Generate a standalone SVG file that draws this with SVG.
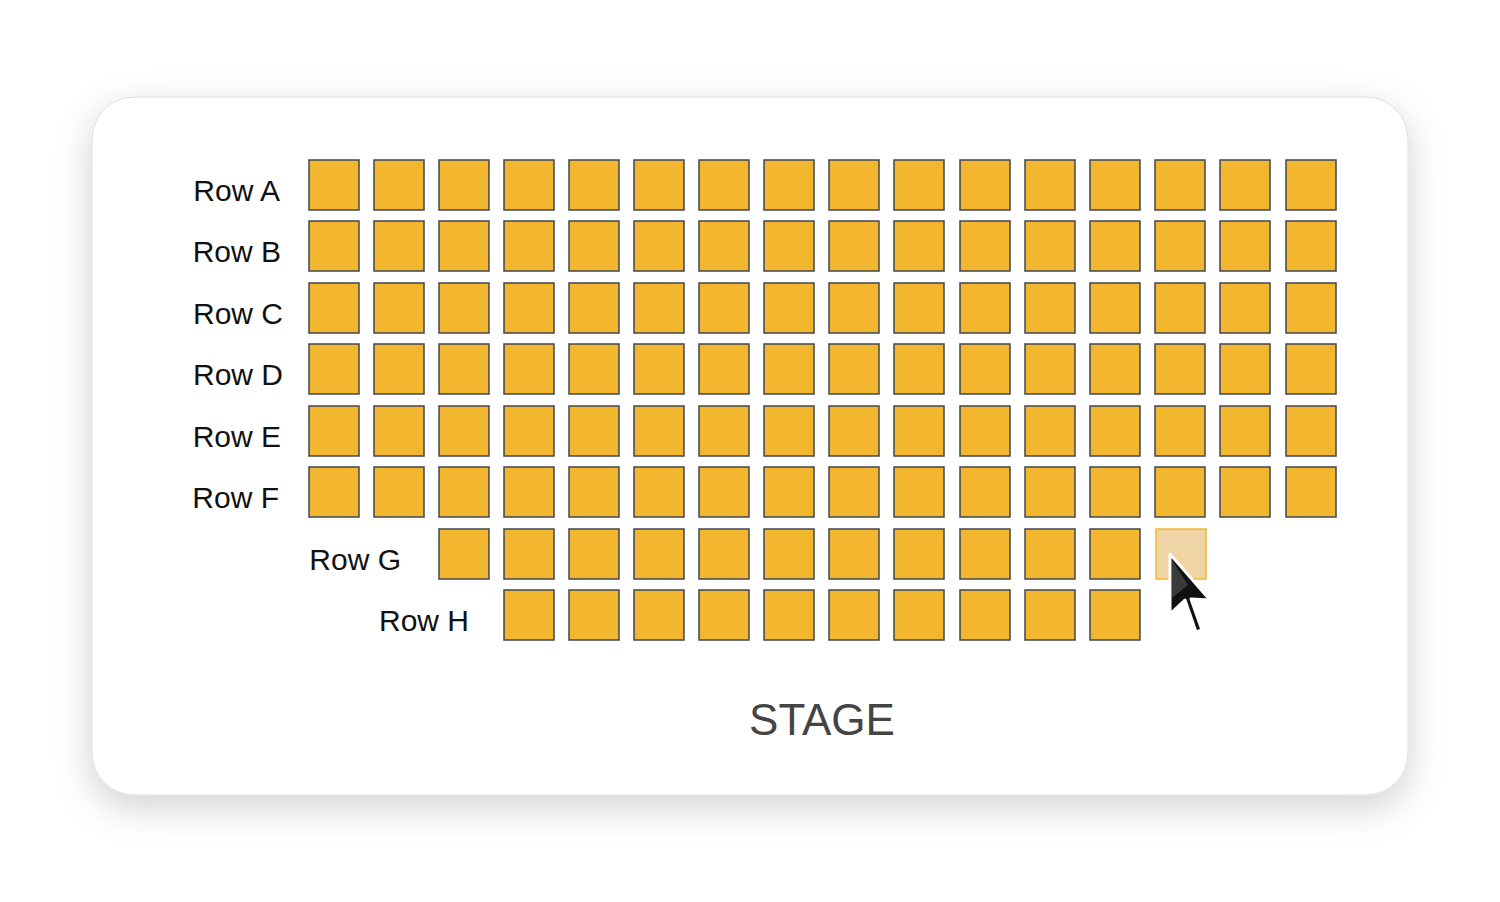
<svg xmlns="http://www.w3.org/2000/svg" xmlns:xlink="http://www.w3.org/1999/xlink" width="1500" height="902" viewBox="0 0 1500 902">
<defs>
<filter id="sh" x="-10%" y="-10%" width="120%" height="130%"><feDropShadow dx="0" dy="12" stdDeviation="18" flood-color="#000" flood-opacity="0.18"/></filter>
<rect id="s" width="50" height="50" fill="#f3b72f" stroke="#3f4652" stroke-width="1.5"/>
</defs>
<style>.lbl{font-family:"Liberation Sans",Arial,sans-serif;font-size:30px;fill:#111}</style>
<rect width="1500" height="902" fill="#fff"/>
<rect x="92" y="97" width="1316" height="698" rx="42" fill="#fff" stroke="#ddd" stroke-width="1" filter="url(#sh)"/>
<g id="labels" class="lbl" text-anchor="end">
<text x="280" y="201">Row A</text><text x="281" y="262">Row B</text><text x="283" y="324">Row C</text><text x="283" y="385">Row D</text><text x="281" y="447">Row E</text><text x="279" y="508">Row F</text><text x="401" y="570">Row G</text><text x="469" y="631">Row H</text>
</g>
<g id="seats">
<g id="rowA"><use href="#s" x="309" y="160"/><use href="#s" x="374" y="160"/><use href="#s" x="439" y="160"/><use href="#s" x="504" y="160"/><use href="#s" x="569" y="160"/><use href="#s" x="634" y="160"/><use href="#s" x="699" y="160"/><use href="#s" x="764" y="160"/><use href="#s" x="829" y="160"/><use href="#s" x="894" y="160"/><use href="#s" x="960" y="160"/><use href="#s" x="1025" y="160"/><use href="#s" x="1090" y="160"/><use href="#s" x="1155" y="160"/><use href="#s" x="1220" y="160"/><use href="#s" x="1286" y="160"/></g>
<g id="rowB"><use href="#s" x="309" y="221"/><use href="#s" x="374" y="221"/><use href="#s" x="439" y="221"/><use href="#s" x="504" y="221"/><use href="#s" x="569" y="221"/><use href="#s" x="634" y="221"/><use href="#s" x="699" y="221"/><use href="#s" x="764" y="221"/><use href="#s" x="829" y="221"/><use href="#s" x="894" y="221"/><use href="#s" x="960" y="221"/><use href="#s" x="1025" y="221"/><use href="#s" x="1090" y="221"/><use href="#s" x="1155" y="221"/><use href="#s" x="1220" y="221"/><use href="#s" x="1286" y="221"/></g>
<g id="rowC"><use href="#s" x="309" y="283"/><use href="#s" x="374" y="283"/><use href="#s" x="439" y="283"/><use href="#s" x="504" y="283"/><use href="#s" x="569" y="283"/><use href="#s" x="634" y="283"/><use href="#s" x="699" y="283"/><use href="#s" x="764" y="283"/><use href="#s" x="829" y="283"/><use href="#s" x="894" y="283"/><use href="#s" x="960" y="283"/><use href="#s" x="1025" y="283"/><use href="#s" x="1090" y="283"/><use href="#s" x="1155" y="283"/><use href="#s" x="1220" y="283"/><use href="#s" x="1286" y="283"/></g>
<g id="rowD"><use href="#s" x="309" y="344"/><use href="#s" x="374" y="344"/><use href="#s" x="439" y="344"/><use href="#s" x="504" y="344"/><use href="#s" x="569" y="344"/><use href="#s" x="634" y="344"/><use href="#s" x="699" y="344"/><use href="#s" x="764" y="344"/><use href="#s" x="829" y="344"/><use href="#s" x="894" y="344"/><use href="#s" x="960" y="344"/><use href="#s" x="1025" y="344"/><use href="#s" x="1090" y="344"/><use href="#s" x="1155" y="344"/><use href="#s" x="1220" y="344"/><use href="#s" x="1286" y="344"/></g>
<g id="rowE"><use href="#s" x="309" y="406"/><use href="#s" x="374" y="406"/><use href="#s" x="439" y="406"/><use href="#s" x="504" y="406"/><use href="#s" x="569" y="406"/><use href="#s" x="634" y="406"/><use href="#s" x="699" y="406"/><use href="#s" x="764" y="406"/><use href="#s" x="829" y="406"/><use href="#s" x="894" y="406"/><use href="#s" x="960" y="406"/><use href="#s" x="1025" y="406"/><use href="#s" x="1090" y="406"/><use href="#s" x="1155" y="406"/><use href="#s" x="1220" y="406"/><use href="#s" x="1286" y="406"/></g>
<g id="rowF"><use href="#s" x="309" y="467"/><use href="#s" x="374" y="467"/><use href="#s" x="439" y="467"/><use href="#s" x="504" y="467"/><use href="#s" x="569" y="467"/><use href="#s" x="634" y="467"/><use href="#s" x="699" y="467"/><use href="#s" x="764" y="467"/><use href="#s" x="829" y="467"/><use href="#s" x="894" y="467"/><use href="#s" x="960" y="467"/><use href="#s" x="1025" y="467"/><use href="#s" x="1090" y="467"/><use href="#s" x="1155" y="467"/><use href="#s" x="1220" y="467"/><use href="#s" x="1286" y="467"/></g>
<g id="rowG"><use href="#s" x="439" y="529"/><use href="#s" x="504" y="529"/><use href="#s" x="569" y="529"/><use href="#s" x="634" y="529"/><use href="#s" x="699" y="529"/><use href="#s" x="764" y="529"/><use href="#s" x="829" y="529"/><use href="#s" x="894" y="529"/><use href="#s" x="960" y="529"/><use href="#s" x="1025" y="529"/><use href="#s" x="1090" y="529"/><rect x="1156" y="529" width="50" height="50" fill="#efd5a6" stroke="#f3b72f" stroke-width="1.5"/></g>
<g id="rowH"><use href="#s" x="504" y="590"/><use href="#s" x="569" y="590"/><use href="#s" x="634" y="590"/><use href="#s" x="699" y="590"/><use href="#s" x="764" y="590"/><use href="#s" x="829" y="590"/><use href="#s" x="894" y="590"/><use href="#s" x="960" y="590"/><use href="#s" x="1025" y="590"/><use href="#s" x="1090" y="590"/></g>
</g>
<g id="cursor">
<path d="M1170 554 L1170 614 L1185 600 L1196 632 L1202 630 L1191 599 L1210 600 Z" fill="#111" stroke="#fff" stroke-width="3" stroke-linejoin="round"/>
<path d="M1172 560 L1172 598 L1188 585 Z" fill="#3a3a3a"/>
</g>
<text x="822" y="735" text-anchor="middle" style="font-family:'Liberation Sans',Arial,sans-serif;font-size:44px;fill:#444">STAGE</text>
</svg>
